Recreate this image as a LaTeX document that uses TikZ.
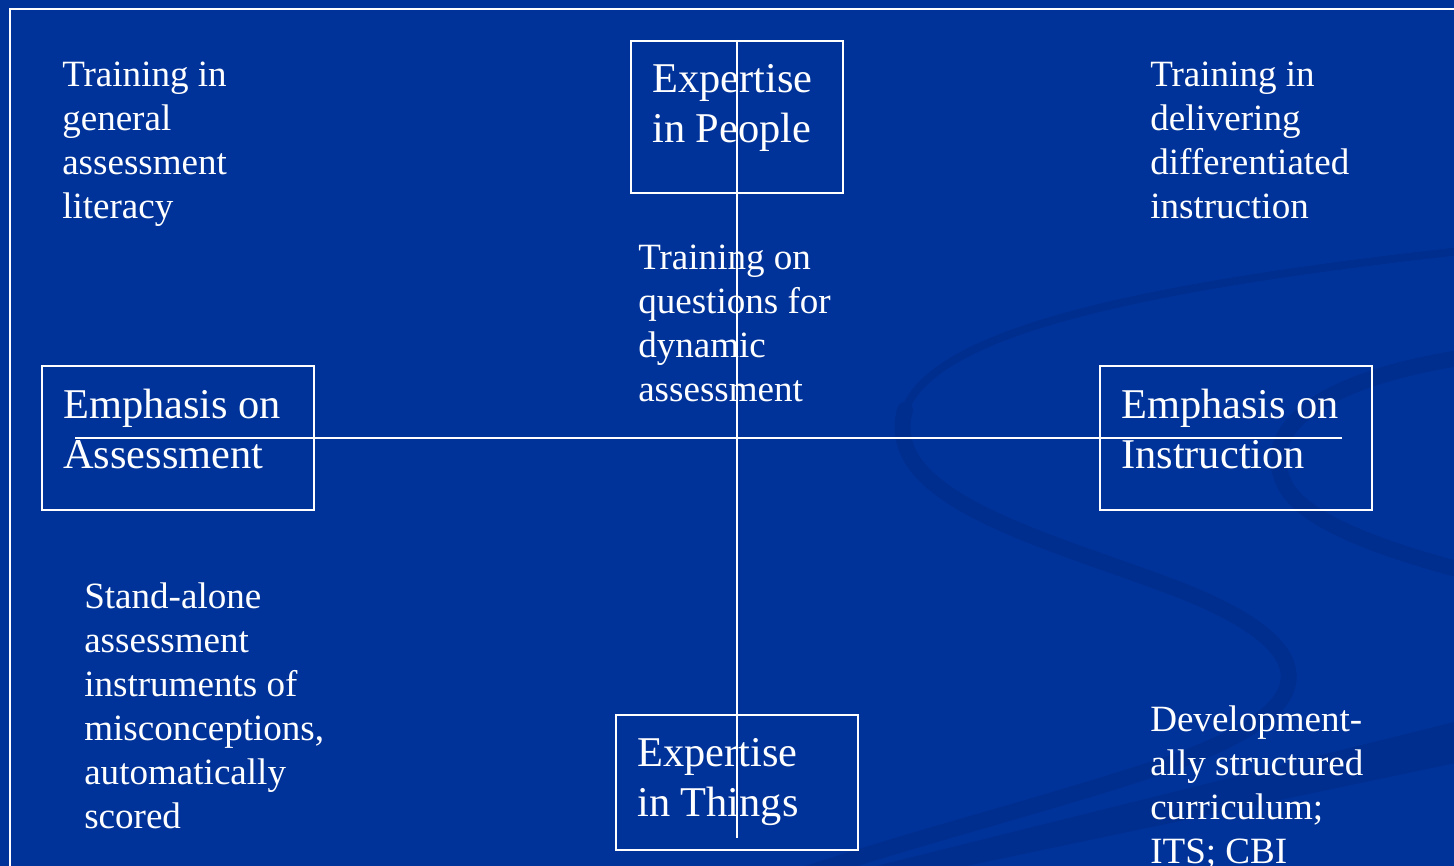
\documentclass[tikz,border=0pt]{standalone}
\usepackage{fontspec}
\setmainfont{Liberation Serif}
\definecolor{slideblue}{RGB}{0,51,153}
\definecolor{swirlblue}{RGB}{0,46,143}
% one left-aligned block of lines, anchored at the first baseline
\newcommand\lineblock[1]{\begin{tabular}[t]{@{}l@{}}#1\end{tabular}}
\tikzset{
  rule/.style={draw=white, line width=1.5pt},
  frame/.style={rectangle, draw=white, line width=1.5pt, inner sep=0pt},
  boxtext/.style={anchor=base west, inner sep=0pt, text=white,
    font=\fontsize{31.8}{37.5}\selectfont},
  plaintext/.style={anchor=base west, inner sep=0pt, text=white,
    font=\fontsize{27.8}{33}\selectfont},
  swirl/.style={draw=swirlblue, line cap=round},
}
\begin{document}
\begin{tikzpicture}[x=0.75pt, y=-0.75pt]
  \useasboundingbox (0,0) rectangle (1454,866);
  \fill[slideblue] (0,0) rectangle (1454,866);
  \clip (0,0) rectangle (1454,866);

  % faint background ribbons
  \draw[swirl, line width=6pt] (1470,250) .. controls (1150,285) and (935,330) .. (905,410);
  \draw[swirl, line width=12pt] (905,410) .. controls (880,500) and (1050,540) .. (1180,590)
      .. controls (1320,645) and (1330,705) .. (1180,760)
      .. controls (1050,805) and (900,840) .. (760,890);
  \draw[swirl, line width=12pt] (1480,355) .. controls (1330,375) and (1255,425) .. (1285,485)
      .. controls (1305,525) and (1400,555) .. (1480,575);
  \fill[swirlblue] (820,880) -- (1470,718) -- (1470,760) -- (900,880) -- cycle;

  % slide frame
  \draw[rule] (1470,9) -- (10,9) -- (10,880);

  % boxes
  \node[frame, minimum width=159pt, minimum height=114pt] (people) at (737,117) {};
  \node[frame, minimum width=204pt, minimum height=108pt] (assess) at (178,438) {};
  \node[frame, minimum width=204pt, minimum height=108pt] (instr) at (1236,438) {};
  \node[frame, minimum width=181.5pt, minimum height=101.25pt] (things) at (737,782.5) {};

  % axes
  \coordinate (vend) at (737,838);
  \coordinate (hstart) at (75,438);
  \coordinate (hend) at (1342,438);
  \draw[rule] (people.north) -- (vend);
  \draw[rule] (hstart) -- (hend);

  % box labels
  \node[boxtext] (peopletext) at (652,93) {\lineblock{Expertise\\in People}};
  \node[boxtext] (assesstext) at (63,418) {\lineblock{Emphasis on\\Assessment}};
  \node[boxtext] (instrtext) at (1121,418) {\lineblock{Emphasis on\\Instruction}};
  \node[boxtext] (thingstext) at (637,766) {\lineblock{Expertise\\in Things}};

  % quadrant notes
  \node[plaintext] (tl) at (62,87) {\lineblock{Training in\\general\\assessment\\literacy}};
  \node[plaintext] (tr) at (1150,87) {\lineblock{Training in\\delivering\\differentiated\\instruction}};
  \node[plaintext] (mid) at (638,270) {\lineblock{Training on\\questions for\\dynamic\\assessment}};
  \node[plaintext] (bl) at (84,608) {\lineblock{Stand-alone\\assessment\\instruments of\\misconceptions,\\automatically\\scored}};
  \node[plaintext] (br) at (1150,731) {\lineblock{Development-\\ally structured\\curriculum;\\ITS; CBI}};
\end{tikzpicture}
\end{document}
